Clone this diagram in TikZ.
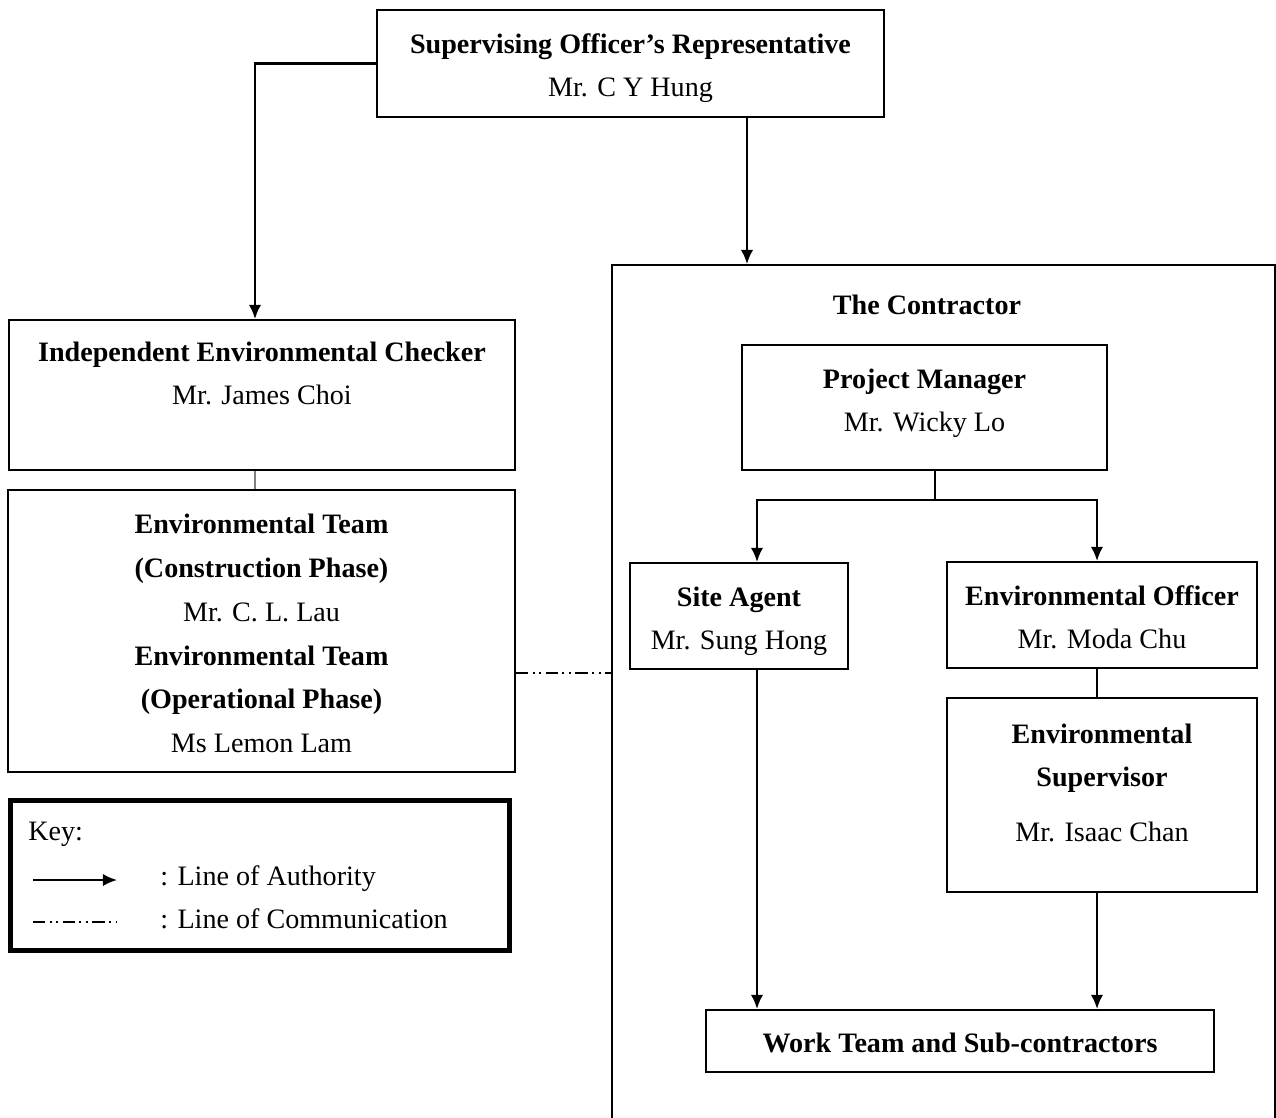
\documentclass[tikz,border=0pt]{standalone}
\usepackage{fontspec}
\setmainfont{Liberation Serif}
\usepackage{tikz}
\usetikzlibrary{arrows.meta, calc, positioning}
\newcommand{\tstrut}{\rule{0pt}{17pt}}

\begin{document}
\begin{tikzpicture}[x=0.02cm, y=-0.02cm,
  every node/.style={font=\fontsize{16}{24.5}\selectfont},
  box/.style={draw, line width=1.2pt, align=center, inner sep=0pt},
  auth/.style={line width=1.2pt, -{Latex[length=8pt,width=7pt]}},
  comm/.style={line width=1.1pt, dash pattern=on 7pt off 2.5pt on 1.2pt off 2.5pt on 1.2pt off 2.5pt}]
  \useasboundingbox (0,0) rectangle (1276,1117);
  \node (sor) [box, minimum width=10.14cm, minimum height=2.14cm] at (630.5,63.5)
    {\tstrut\textbf{Supervising Officer’s Representative}\\Mr. C Y Hung};
  \node (iec) [box, minimum width=10.12cm, minimum height=3cm] at (262,395)
    {\tstrut\textbf{Independent Environmental Checker}\\Mr. James Choi\\[0.2cm]~};
  \node (et) [box, minimum width=10.14cm, minimum height=5.64cm,
    font=\fontsize{16}{24.9}\selectfont] at (261.5,631)
    {\rule{0pt}{14pt}\textbf{Environmental Team}\\\textbf{(Construction Phase)}\\Mr. C. L. Lau\\
     \textbf{Environmental Team}\\\textbf{(Operational Phase)}\\Ms Lemon Lam};
  \node (contractor) [draw, line width=1.2pt, minimum width=13.26cm, minimum height=17.5cm] at (943.5,702.5) {};
  \node (ctitle) at (927,305) {\textbf{The Contractor}};
  \node (pm) [box, minimum width=7.3cm, minimum height=2.5cm] at (924.5,407.5)
    {\tstrut\textbf{Project Manager}\\Mr. Wicky Lo\\[-0.38cm]\mbox{}};
  \node (sa) [box, minimum width=4.36cm, minimum height=2.12cm] at (739,616)
    {\tstrut\textbf{Site Agent}\\Mr. Sung Hong};
  \node (eo) [box, minimum width=6.2cm, minimum height=2.12cm] at (1102,615)
    {\rule{0pt}{14pt}\textbf{Environmental Officer}\\Mr. Moda Chu};
  \node (es) [box, minimum width=6.2cm, minimum height=3.88cm] at (1102,795)
    {\tstrut\textbf{Environmental}\\\textbf{Supervisor}\\[0.24cm]Mr. Isaac Chan\\[-0.15cm]\mbox{}};
  \node (wt) [box, minimum width=10.16cm, minimum height=1.24cm] at (960,1041)
    {\rule{0pt}{13pt}\textbf{Work Team and Sub-contractors}};
  \node (key) [draw, line width=2.8pt, minimum width=9.98cm, minimum height=3cm] at (260,875.5) {};
  \node (keytitle) [anchor=mid west, inner sep=0pt] at (28,836) {Key:};
  \coordinate (ka1) at (33,880);
  \coordinate (ka2) at (117,880);
  \coordinate (kc1) at (33,922);
  \coordinate (kc2) at (117,922);
  \node (kauth) [anchor=mid west, inner sep=0pt] at (160,881) {: Line of Authority};
  \node (kcomm) [anchor=mid west, inner sep=0pt] at (160,924) {: Line of Communication};
  \draw[auth] (ka1) -- (ka2);
  \draw[comm] (kc1) -- (kc2);
  \draw[auth] (sor.west) -| (iec.north -| 255,0);
  \draw[auth] (sor.south -| 747,0) -- (contractor.north -| 747,0);
  \draw[line width=1.2pt, gray] (iec.south -| 255,0) -- (et.north -| 255,0);
  \draw[comm] (et.east |- 0,673) -- (contractor.west |- 0,673);
  \draw[line width=1.2pt] (pm.south -| 935,0) -- (935,500);
  \draw[auth] (935,500) -| (sa.north -| 757,0);
  \draw[auth] (935,500) -| (eo.north -| 1097,0);
  \draw[line width=1.2pt] (eo.south -| 1097,0) -- (es.north -| 1097,0);
  \draw[auth] (sa.south -| 757,0) -- (wt.north -| 757,0);
  \draw[auth] (es.south -| 1097,0) -- (wt.north -| 1097,0);
\end{tikzpicture}
\end{document}
